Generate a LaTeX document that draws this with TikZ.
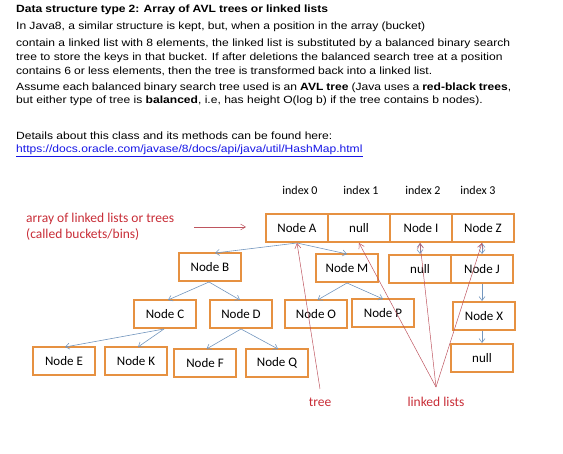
\documentclass[tikz,border=0pt]{standalone}
\usepackage{fontspec}
\setmainfont{Liberation Sans}[FakeStretch=1.15]
\newfontfamily\calfont{Carlito}
\usetikzlibrary{arrows.meta}
\definecolor{boxorange}{RGB}{230,145,65}
\definecolor{linkblue}{RGB}{115,150,190}
\definecolor{labelred}{RGB}{200,45,55}
\definecolor{linered}{RGB}{190,85,95}
\definecolor{urlblue}{RGB}{20,20,230}
\begin{document}
\begin{tikzpicture}[x=1pt,y=-1pt,
  txt/.style={anchor=west,inner sep=0,font=\fontsize{10.5}{12}\selectfont},
  cell/.style={draw=boxorange,line width=2pt,minimum width=62pt,minimum height=28pt,inner sep=0,font=\calfont\fontsize{13}{15}\selectfont},
  idx/.style={inner sep=0,font=\calfont\fontsize{12}{14}\selectfont},
  redlbl/.style={inner sep=0,text=labelred,font=\calfont\fontsize{13.5}{16}\selectfont},
  tlink/.style={draw=linkblue,line width=0.6pt,-{Straight Barb[length=4pt,width=6pt]}},
  dlink/.style={draw=linkblue,line width=0.6pt,{Straight Barb[length=4pt,width=6pt]}-{Straight Barb[length=4pt,width=6pt]}},
  rlink/.style={draw=linered,line width=0.5pt,-{Straight Barb[length=5pt,width=6pt]}}]
\useasboundingbox (0,0) rectangle (563,454);
% text block
\node[txt,font=\fontsize{10.5}{13}\selectfont] (t0) at (16,10) {\makebox[312pt][s]{\textbf{Data structure type 2: Array of AVL trees or linked lists}}};
\node[txt] (t1) at (16,27) {\makebox[409pt][s]{In Java8, a similar structure is kept, but, when a position in the array (bucket)}};
\node[txt] (t2) at (16,44) {contain a linked list with 8 elements, the linked list is substituted by a balanced binary search};
\node[txt] (t3) at (16,58) {tree to store the keys in that bucket. If after deletions the balanced search tree at a position};
\node[txt] (t4) at (16,71) {\makebox[416pt][s]{contains 6 or less elements, then the tree is transformed back into a linked list.}};
\node[txt] (t5) at (16,88) {\makebox[495pt][s]{Assume each balanced binary search tree used is an \textbf{AVL tree} (Java uses a \textbf{red-black trees},}};
\node[txt] (t6) at (16,101) {but either type of tree is \textbf{balanced}, i.e, has height O(log b) if the tree contains b nodes).};
\node[txt] (t7) at (16,136) {Details about this class and its methods can be found here:};
\node[txt,text=urlblue] (t8) at (16,151) {\underline{https://docs.oracle.com/javase/8/docs/api/java/util/HashMap.html}};
% index labels
\node[idx] (i0) at (300,190) {index 0};
\node[idx] (i1) at (361,190) {index 1};
\node[idx] (i2) at (423,190) {index 2};
\node[idx] (i3) at (478,190) {index 3};
% red label
\node[redlbl,align=left,anchor=west] (lbl) at (26,227) {array of linked lists or trees\\(called buckets/bins)};
\coordinate (arrs) at (194,227);
\coordinate (arre) at (246,227);
% array
\node[cell] (A) at (297,228) {Node A};
\node[cell] (N1) at (359,228) {null};
\node[cell] (I) at (421,228) {Node I};
\node[cell] (Z) at (483,228) {Node Z};
% second row
\node[cell] (B) at (210,267) {Node B};
\node[cell] (M) at (347,268) {Node M};
\node[cell] (N2) at (420,269) {null};
\node[cell] (J) at (482,269) {Node J};
% third row
\node[cell] (C) at (165,314) {Node C};
\node[cell] (D) at (241,314) {Node D};
\node[cell] (O) at (316,314) {Node O};
\node[cell] (P) at (383,313) {Node P};
\node[cell] (X) at (484,316) {Node X};
% fourth row
\node[cell] (E) at (64,361) {Node E};
\node[cell] (K) at (136,361) {Node K};
\node[cell] (F) at (205,363) {Node F};
\node[cell] (Q) at (277,363) {Node Q};
\node[cell] (N3) at (482,358) {null};
% labels
\node[redlbl] (tree) at (320,402) {tree};
\node[redlbl] (ll) at (436,402) {linked lists};
\coordinate (tp) at (320,389);
\coordinate (lp) at (436,387);
% arrows (blue)
\draw[tlink] (A.south) -- ([xshift=5pt,yshift=-1pt]B.north);
\draw[tlink] (A.south) -- ([yshift=-1pt]M.north);
\draw[tlink] ([xshift=-1pt]B.south) -- ([xshift=3pt,yshift=-1pt]C.north);
\draw[tlink] ([xshift=-1pt]B.south) -- ([xshift=-1pt,yshift=-1pt]D.north);
\draw[tlink] ([xshift=-1pt]C.south) -- ([xshift=1pt,yshift=-1pt]E.north);
\draw[tlink] ([xshift=-1pt]C.south) -- ([xshift=2pt,yshift=-1pt]K.north);
\draw[tlink] (D.south) -- ([xshift=1.5pt,yshift=-1pt]F.north);
\draw[tlink] (D.south) -- ([xshift=1pt,yshift=-1pt]Q.north);
\draw[tlink] (M.south) -- ([xshift=1.5pt,yshift=-1pt]O.north);
\draw[tlink] (M.south) -- ([yshift=-1pt]P.north);
\draw[dlink] ([xshift=-1pt]I.south) -- ([xshift=-1pt]I.south |- N2.north);
\draw[dlink] ([xshift=-1pt]Z.south) -- ([xshift=-1pt]Z.south |- J.north);
\draw[tlink] (J.south) -- (J.south |- X.north);
\draw[tlink] ([xshift=-2pt]X.south) -- ([xshift=-2pt]X.south |- N3.north);
% red arrows
\draw[rlink] (arrs) -- (arre);
\draw[rlink] (tp) -- (A.south);
\draw[rlink] (lp) -- (N1.south);
\draw[rlink] (lp) -- ([xshift=-1pt]I.south);
\draw[rlink] (lp) -- ([xshift=-1pt]Z.south);
\end{tikzpicture}
\end{document}
